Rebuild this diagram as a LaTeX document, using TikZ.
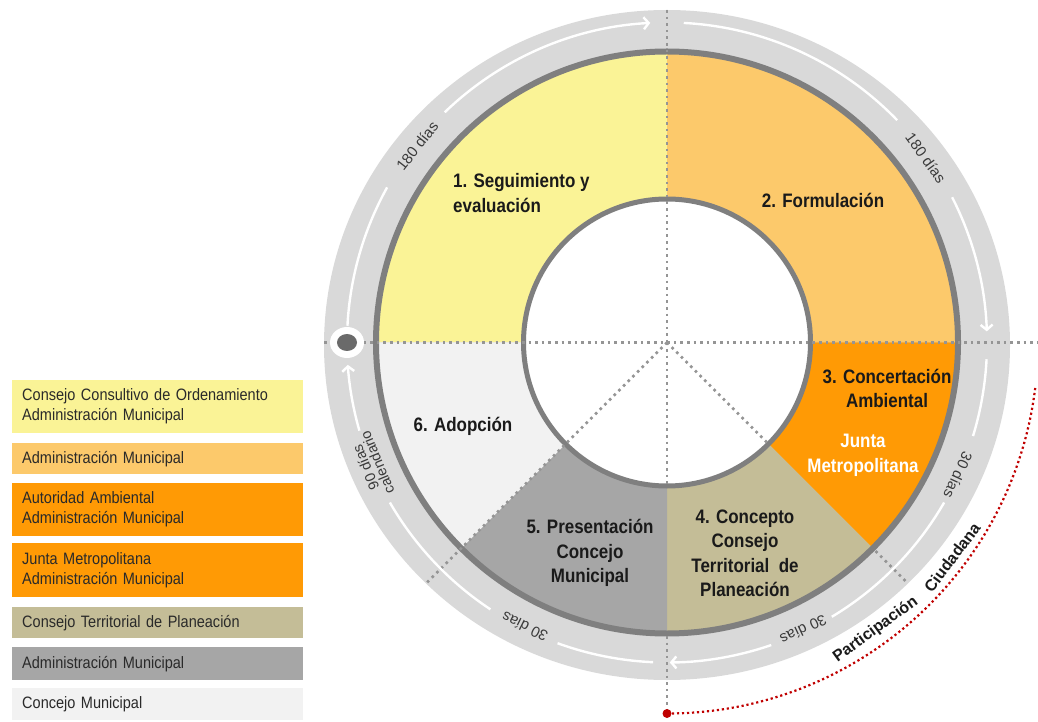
\documentclass[tikz,border=0pt]{standalone}
\usepackage{fontspec}
\setmainfont{Liberation Sans}
\newfontfamily\lblfont{Liberation Sans}[FakeStretch=0.87]
\newfontfamily\legfont{Liberation Sans}[FakeStretch=0.88]
\usetikzlibrary{arrows.meta}
\definecolor{cA}{HTML}{FAF396}
\definecolor{cB}{HTML}{FCC96B}
\definecolor{cC}{HTML}{FF9A05}
\definecolor{cD}{HTML}{C4BD97}
\definecolor{cE}{HTML}{A6A6A6}
\definecolor{cF}{HTML}{F2F2F2}
\definecolor{bandc}{HTML}{D9D9D9}
\definecolor{ringc}{HTML}{7F7F7F}
\definecolor{dotc}{HTML}{959595}
\definecolor{dotdark}{HTML}{6A6A6A}
\definecolor{lblc}{HTML}{1A1A1A}
\definecolor{btxt}{HTML}{3A3A3A}
\definecolor{legtxt}{HTML}{2A2A2A}
\definecolor{redc}{HTML}{C00000}
\newcommand\annsec[3]{\fill[#1] (#2:145pt) -- (#2:290pt) arc[start angle=#2,end angle=#3,radius=290pt] -- (#3:145pt) arc[start angle=#3,end angle=#2,radius=145pt] -- cycle;}
\begin{document}
\begin{tikzpicture}[x=1pt,y=1pt,
  lbl/.style={font=\lblfont\bfseries\fontsize{19.5}{24.5}\selectfont, text=lblc, align=center, inner sep=0pt},
  bandlbl/.style={font=\fontsize{15}{15}\selectfont, text=btxt, inner sep=0pt},
  partlbl/.style={font=\bfseries\fontsize{16}{16}\selectfont, text=lblc, inner sep=0pt},
  warrow/.style={draw=white, line width=2.4pt},
  wtip/.style={warrow, -{Straight Barb[length=5pt,width=12pt]}},
  gdot/.style={draw=dotc, line width=2.6pt, dash pattern=on 2.6pt off 4pt},
  reddot/.style={draw=redc, line width=2.2pt, dash pattern=on 2.2pt off 2.8pt},
  legbox/.style={anchor=north west, inner xsep=10pt, inner ysep=0pt, text width=271pt, align=left, font=\legfont\fontsize{16.5}{20}\selectfont, text=legtxt}
]
\useasboundingbox (0,0) rectangle (1038,721);
\coordinate (C) at (667,378.5);

% outer gray band
\fill[bandc] (667,376) ellipse[x radius=343pt, y radius=335pt];

\begin{scope}[shift={(667,378.5)}]
  % sectors
  \annsec{cA}{90}{180}
  \annsec{cB}{0}{90}
  \annsec{cC}{-45}{0}
  \annsec{cD}{-90}{-45}
  \annsec{cE}{-135}{-90}
  \annsec{cF}{-180}{-135}
  % rings
  \draw[ringc, line width=6pt] (0,0) circle[radius=291pt];
  \fill[white] (0,0) circle[radius=143.5pt];
  \draw[ringc, line width=5pt] (0,0) circle[radius=143.5pt];
  % dotted guides
  \draw[gdot] (0,0) -- (-45:143pt);
  \draw[gdot] (-45:295pt) -- (-45:340pt);
  \draw[gdot] (0,0) -- (-135:340pt);
  \draw[gdot] (0,0) -- (-90:143pt);
  % white arrows
  \draw[warrow] (177:320pt) arc[start angle=177,end angle=151,radius=320pt];
  \draw[wtip] (134:320pt) arc[start angle=134,end angle=93,radius=320pt];
  \draw[warrow] (87:320pt) arc[start angle=87,end angle=44,radius=320pt];
  \draw[wtip] (27:320pt) arc[start angle=27,end angle=2,radius=320pt];
  \draw[warrow] (-3:320pt) arc[start angle=-3,end angle=-17,radius=320pt];
  \draw[warrow] (-30:320pt) arc[start angle=-30,end angle=-59,radius=320pt];
  \draw[wtip] (-71:320pt) arc[start angle=-71,end angle=-89.5,radius=320pt];
  \draw[warrow] (-92.5:320pt) arc[start angle=-92.5,end angle=-110,radius=320pt];
  \draw[warrow] (-123.5:320pt) arc[start angle=-123.5,end angle=-150,radius=320pt];
  \draw[wtip] (-164:320pt) arc[start angle=-164,end angle=-176,radius=320pt];
  % band labels
  \node[bandlbl, rotate=51.8] (b1) at (141.8:318pt) {180 días};
  \node[bandlbl, rotate=-54.3] (b2) at (35.5:318pt) {180 días};
  \node[bandlbl, rotate=-114.5] (b3) at (-24.5:320pt) {30 días};
  \node[bandlbl, rotate=-154.6] (b4) at (-64.6:318pt) {30 días};
  \node[bandlbl, rotate=153.4] (b5) at (-116.6:318pt) {30 días};
  \node[bandlbl, rotate=112.5, align=center, font=\fontsize{14.5}{12.5}\selectfont] (b6) at (-157.5:320pt) {90 días\\calendario};
  % participation labels
  \node[partlbl, rotate=36] (p1) at (-54:355pt) {Participación};
  \node[partlbl, rotate=53] (p2) at (-37:357pt) {Ciudadana};
\end{scope}

% straight dotted guides
\draw[gdot] (667,711) -- (C);
\draw[gdot] (667,85) -- (667,6);
\draw[gdot] (324,378.5) -- (1038,378.5);

% start dot
\fill[white] (347,378.5) ellipse[x radius=17pt, y radius=15.5pt];
\fill[dotdark] (347,378.5) ellipse[x radius=10pt, y radius=8.5pt];

% sector labels
\node[lbl, anchor=west, align=left] (l1) at (453,528) {1. Seguimiento y\\evaluación};
\node[lbl] (l2) at (823,521) {2. Formulación};
\node[lbl] (l3) at (887,332.5) {3. Concertación\\Ambiental};
\node[lbl, text=white] (l3b) at (863,265.5) {Junta\\Metropolitana};
\node[lbl] (l4) at (745,167.5) {4. Concepto\\Consejo\\Territorial~ de\\Planeación};
\node[lbl] (l5) at (590,168) {5. Presentación\\Concejo\\Municipal};
\node[lbl] (l6) at (463,295) {6. Adopción};

% participation arc
\draw[reddot] ([shift={(-90:371pt)}]C) arc[start angle=-90,end angle=-7,radius=371pt];
\fill[redc] ([shift={(-90:371pt)}]C) circle[radius=4.5pt];

% legend
\node[legbox, fill=cA, minimum height=53pt] (k1) at (12,341) {Consejo Consultivo de Ordenamiento\\Administración Municipal};
\node[legbox, fill=cB, minimum height=31pt] (k2) at (12,278) {Administración Municipal};
\node[legbox, fill=cC, minimum height=53pt] (k3) at (12,238) {Autoridad Ambiental\\Administración Municipal};
\node[legbox, fill=cC, minimum height=54pt] (k4) at (12,178) {Junta Metropolitana\\Administración Municipal};
\node[legbox, fill=cD, minimum height=31pt] (k5) at (12,114) {Consejo Territorial de Planeación};
\node[legbox, fill=cE, minimum height=33pt] (k6) at (12,74) {Administración Municipal};
\node[legbox, fill=cF, minimum height=32pt] (k7) at (12,33) {Concejo Municipal};
\end{tikzpicture}
\end{document}
